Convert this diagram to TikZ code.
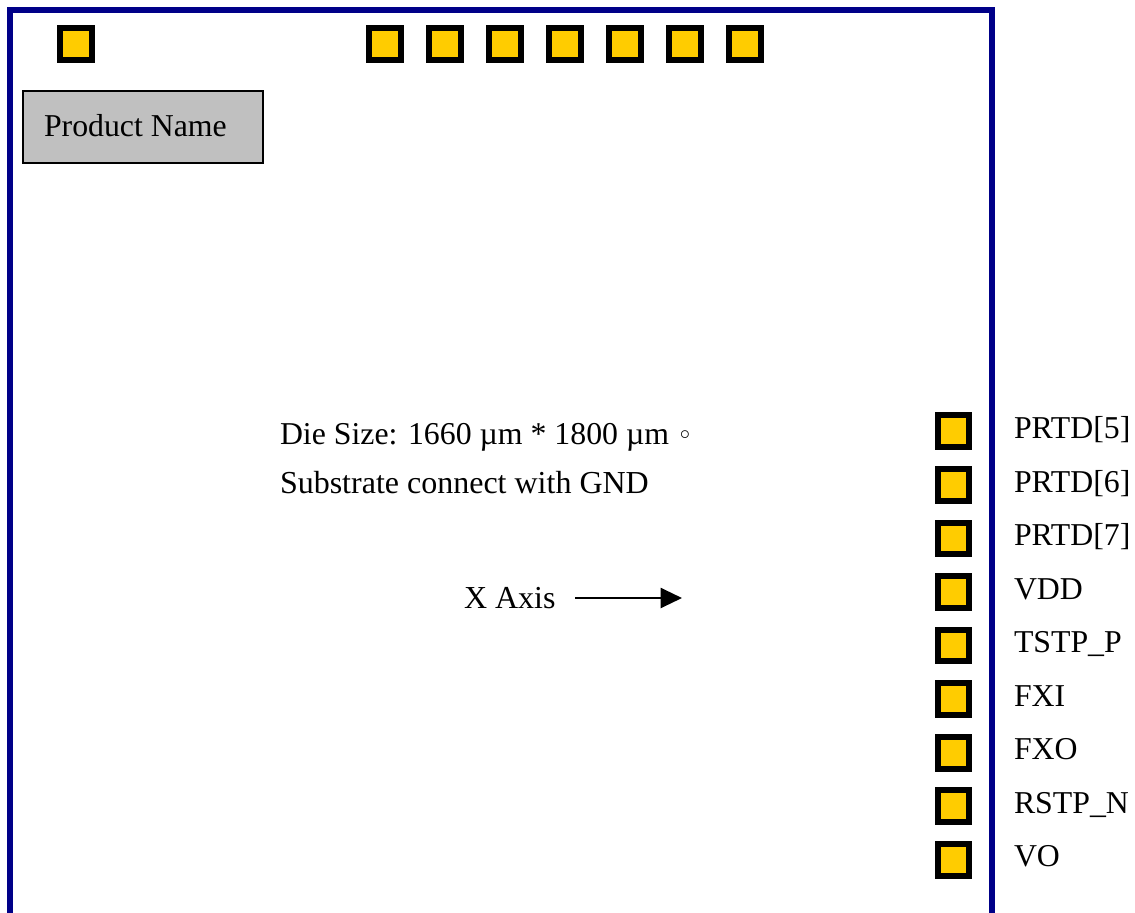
\documentclass[tikz,border=0pt]{standalone}
\usepackage{fontspec}
\setmainfont{Liberation Serif}
\newfontfamily\symfont{DejaVu Sans}
\usetikzlibrary{arrows.meta}
\definecolor{padgold}{HTML}{FFCC00}
\definecolor{framenavy}{HTML}{000088}
\definecolor{namegray}{HTML}{C0C0C0}
\tikzset{
  padbox/.style={draw=black,fill=padgold,line width=4.5pt,minimum size=23.8pt,inner sep=0pt,rectangle},
  lbl/.style={anchor=base west,inner sep=0pt,outer sep=0pt,font=\fontsize{23.85pt}{24pt}\selectfont,text=black},
  bodytext/.style={lbl,font=\fontsize{24pt}{24pt}\selectfont},
  namebox/.style={draw=black,fill=namegray,line width=1.5pt,rectangle,inner sep=0pt,minimum width=180pt,minimum height=54pt},
  frameline/.style={draw=framenavy,line width=4.5pt,line cap=butt,line join=miter},
  axisarrow/.style={draw=black,line width=1.6pt,-{Triangle[length=16pt,width=15pt]}}
}
\begin{document}
\begin{tikzpicture}[x=0.75pt,y=-0.75pt]
\useasboundingbox (0,0) rectangle (1135,913);
\coordinate (fa) at (10,913);
\coordinate (fb) at (10,10);
\coordinate (fc) at (992,10);
\coordinate (fd) at (992,913);
\draw[frameline] (fa) -- (fb) -- (fc) -- (fd);
\node[padbox] (p0) at (76,44) {};
\foreach \i/\x in {1/385,2/445,3/505,4/565,5/625,6/685,7/745}
  \node[padbox] (t\i) at (\x,44) {};
\node[namebox] (pn) at (143,127) {};
\node[lbl] (pnt) at (44,137) {Product Name};
\node[lbl] (die) at (280,444) {Die Size: 1660 µm * 1800 µm {\symfont\fontsize{20pt}{20pt}\selectfont ◦}};
\node[bodytext] (sub) at (280,493) {Substrate connect with GND};
\node[bodytext] (xax) at (464,608.5) {X Axis};
\coordinate (as) at (575,598);
\coordinate (ae) at (682,598);
\draw[axisarrow] (as) -- (ae);
\foreach \i/\n in {0/PRTD[5],1/PRTD[6],2/PRTD[7],3/VDD,4/TSTP\_P,5/FXI,6/FXO,7/RSTP\_N,8/VO}{
  \node[padbox] (r\i) at (953.5,431.3+53.56*\i) {};
  \node[lbl] (l\i) at (1014,438.5+53.56*\i) {\n};
}
\end{tikzpicture}
\end{document}
